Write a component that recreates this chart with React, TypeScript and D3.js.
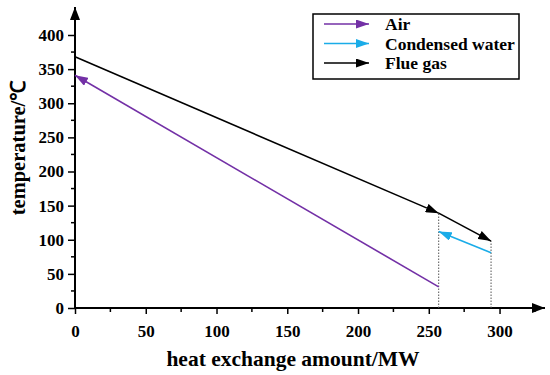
import React, { useEffect, useRef } from "react";
import * as d3 from "d3";

// [x (MW), temperature (℃)] -- arrow drawn at the last point
const airLine = [
  [257, 31],
  [0, 341],
];
const waterLine = [
  [294, 81],
  [257, 112],
];
const flueLine1 = [
  [0, 368],
  [257, 139],
];
const flueLine2 = [
  [257, 139],
  [294, 98],
];
const guideX = [257, 294];
const guideTop = [139, 98];

const legendNames = ["Air", "Condensed water", "Flue gas"];
const legendColors = ["#7330a6", "#1aace8", "#000000"];

const xTicks = [0, 50, 100, 150, 200, 250, 300];
const yTicks = [0, 50, 100, 150, 200, 250, 300, 350, 400];

const App = () => {
  const svgRef = useRef(null);

  useEffect(() => {
    draw();
  }, []);

  const draw = () => {
    const svg = d3.select(svgRef.current);
    svg.selectAll("*").remove();
    const font = "Liberation Serif";

    const x = d3.scaleLinear().domain([0, 330]).range([75, 542]);
    const y = d3.scaleLinear().domain([0, 400]).range([308, 35]);

    // markers
    const defs = svg.append("defs");
    const addMarker = (id, color, w, h) => {
      defs
        .append("marker")
        .attr("id", id)
        .attr("viewBox", `0 0 ${w} ${h}`)
        .attr("refX", w)
        .attr("refY", h / 2)
        .attr("markerWidth", w)
        .attr("markerHeight", h)
        .attr("markerUnits", "userSpaceOnUse")
        .attr("orient", "auto")
        .append("path")
        .attr("d", `M0,0L${w},${h / 2}L0,${h}Z`)
        .attr("fill", color);
    };
    addMarker("m0", legendColors[0], 13, 9);
    addMarker("m1", legendColors[1], 13, 9);
    addMarker("m2", legendColors[2], 13, 9);
    addMarker("axisArrow", "#000", 13, 10);

    // major ticks
    const xAxis = d3
      .axisBottom(x)
      .tickValues(xTicks)
      .tickSize(6)
      .tickSizeOuter(0)
      .tickFormat(d3.format("d"));
    const gx = svg.append("g").attr("transform", `translate(0, ${y(0)})`).call(xAxis);
    gx.attr("font-family", font);
    gx.select(".domain").remove();
    gx.selectAll("line").attr("stroke-width", 1.5);
    gx.selectAll("text")
      .attr("font-weight", "bold")
      .attr("font-size", 17)
      .attr("y", 29)
      .attr("dy", 0);
    // minor ticks
    svg
      .append("g")
      .selectAll("line")
      .data(d3.range(25, 330, 50))
      .enter()
      .append("line")
      .attr("x1", (d) => x(d))
      .attr("x2", (d) => x(d))
      .attr("y1", y(0))
      .attr("y2", y(0) + 4)
      .attr("stroke", "#000")
      .attr("stroke-width", 1.5);

    const yAxis = d3
      .axisLeft(y)
      .tickValues(yTicks)
      .tickSize(7)
      .tickSizeOuter(0)
      .tickFormat(d3.format("d"));
    const gy = svg.append("g").attr("transform", `translate(${x(0)}, 0)`).call(yAxis);
    gy.attr("font-family", font);
    gy.select(".domain").remove();
    gy.selectAll("line").attr("stroke-width", 1.5);
    gy.selectAll("text")
      .attr("font-weight", "bold")
      .attr("font-size", 17)
      .attr("x", -11);
    svg
      .append("g")
      .selectAll("line")
      .data(d3.range(25, 426, 50))
      .enter()
      .append("line")
      .attr("x1", x(0))
      .attr("x2", x(0) - 4)
      .attr("y1", (d) => y(d))
      .attr("y2", (d) => y(d))
      .attr("stroke", "#000")
      .attr("stroke-width", 1.5);

    // axis lines with arrows
    svg
      .append("line")
      .attr("x1", x(0))
      .attr("x2", 545)
      .attr("y1", y(0))
      .attr("y2", y(0))
      .attr("stroke", "#000")
      .attr("stroke-width", 2)
      .attr("marker-end", "url(#axisArrow)");
    svg
      .append("line")
      .attr("x1", x(0))
      .attr("x2", x(0))
      .attr("y1", y(0) + 1)
      .attr("y2", 7)
      .attr("stroke", "#000")
      .attr("stroke-width", 2)
      .attr("marker-end", "url(#axisArrow)");

    // dotted guides
    svg
      .append("g")
      .selectAll("line")
      .data(guideX)
      .enter()
      .append("line")
      .attr("x1", (d) => x(d))
      .attr("x2", (d) => x(d))
      .attr("y1", y(0))
      .attr("y2", (d, i) => y(guideTop[i]))
      .attr("stroke", "#555")
      .attr("stroke-width", 1)
      .attr("stroke-dasharray", "1.5,1.5");

    const line = d3
      .line()
      .x((d) => x(d[0]))
      .y((d) => y(d[1]));

    const series = [
      { data: airLine, c: 0 },
      { data: waterLine, c: 1 },
      { data: flueLine1, c: 2 },
      { data: flueLine2, c: 2 },
    ];
    svg
      .append("g")
      .selectAll("path")
      .data(series)
      .enter()
      .append("path")
      .attr("d", (d) => line(d.data))
      .attr("fill", "none")
      .attr("stroke", (d) => legendColors[d.c])
      .attr("stroke-width", 1.6)
      .attr("marker-end", (d) => `url(#m${d.c})`);

    // axis titles
    svg
      .append("text")
      .attr("x", 293)
      .attr("y", 366)
      .attr("text-anchor", "middle")
      .attr("font-family", font)
      .attr("font-weight", "bold")
      .attr("font-size", 21.5)
      .text("heat exchange amount/MW");
    svg
      .append("text")
      .attr("transform", "translate(25, 148) rotate(-90)")
      .attr("text-anchor", "middle")
      .attr("font-family", font)
      .attr("font-weight", "bold")
      .attr("font-size", 20.5)
      .text("temperature/℃");

    // legend
    const lg = svg.append("g");
    lg.append("rect")
      .attr("x", 313)
      .attr("y", 14)
      .attr("width", 206)
      .attr("height", 65)
      .attr("fill", "#fff")
      .attr("stroke", "#000")
      .attr("stroke-width", 1.5);
    legendNames.forEach((name, i) => {
      const ly = 24 + i * 19.5;
      lg.append("line")
        .attr("x1", 324)
        .attr("x2", 369)
        .attr("y1", ly)
        .attr("y2", ly)
        .attr("stroke", legendColors[i])
        .attr("stroke-width", 1.6)
        .attr("marker-end", `url(#m${i})`);
      lg.append("text")
        .attr("x", 385)
        .attr("y", ly + 6)
        .attr("font-family", font)
        .attr("font-weight", "bold")
        .attr("font-size", 17.5)
        .text(name);
    });
  };

  return (
    <svg
      ref={svgRef}
      width={550}
      height={375}
      style={{ position: "absolute", left: 0, top: 0, background: "#fff" }}
    ></svg>
  );
};

export default App;
